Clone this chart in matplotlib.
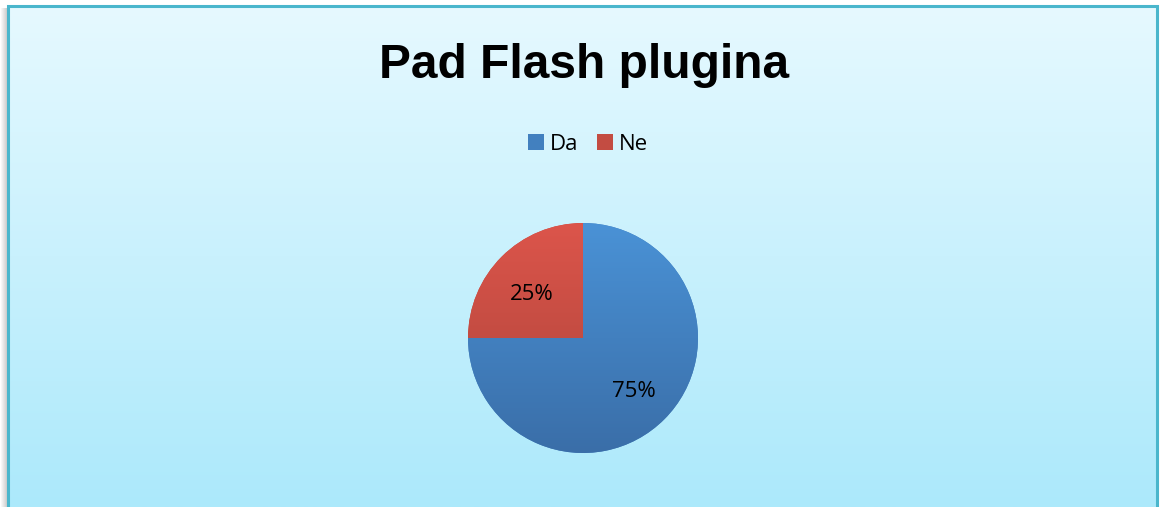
import numpy as np
import matplotlib.pyplot as plt
from matplotlib.colors import LinearSegmentedColormap, to_rgb

# podaci
labels = ['Da', 'Ne']
values = [75, 25]
top_colors = ['#4a92d6', '#dc554b']
bottom_colors = ['#3a6ea8', '#ab4339']
title = 'Pad Flash plugina'

W, H = 1161, 507
fig = plt.figure(figsize=(W / 100, H / 100), dpi=100, facecolor='white')

# pozadina s gradijentom
bg = fig.add_axes([0, 0, 1, 1])
bg.axis('off')
# sjena lijevo
sh = np.linspace(0, 1, 8).reshape(1, -1)
bg.imshow(sh, extent=[0, 8, H, 8], cmap=LinearSegmentedColormap.from_list('s', ['#ffffff', '#c8c8c8']),
          aspect='auto', zorder=0)
grad = np.linspace(0, 1, 256).reshape(-1, 1)
bg_cmap = LinearSegmentedColormap.from_list('bg', ['#e6f9ff', '#ace9fb'])
bg.imshow(grad, extent=[8, 1157, H, 6], cmap=bg_cmap, aspect='auto', zorder=1)
bg.plot([8, 8, 1157, 1157], [H, 6, 6, H], color='#4ab6cc', lw=2.2, zorder=2, solid_joinstyle='miter')
bg.set_xlim(0, W)
bg.set_ylim(H, 0)

bg.text(584, 65, title, ha='center', va='center', fontsize=34.5, fontweight='bold',
        family='Liberation Sans', color='black', zorder=3)

# pita
cx, cy, r = 583, 338, 115
ax = fig.add_axes([(cx - r) / W, (H - cy - r) / H, 2 * r / W, 2 * r / H])
ax.patch.set_alpha(0)
mid = [tuple((np.array(to_rgb(a)) + np.array(to_rgb(b))) / 2) for a, b in zip(top_colors, bottom_colors)]
wedges, texts, autotexts = ax.pie(values, colors=mid, startangle=90, counterclock=False,
                                  autopct='%d%%', pctdistance=0.63, radius=1,
                                  textprops=dict(fontsize=16, family='Open Sans', color='black'))
for w, tc, bc in zip(wedges, top_colors, bottom_colors):
    cm = LinearSegmentedColormap.from_list('w', [tc, bc])
    im = ax.imshow(grad, extent=[-1, 1, -1, 1], cmap=cm, aspect='auto', zorder=w.get_zorder())
    im.set_clip_path(w)
# malo spusti natpise kao u Excelu
for t, dy in zip(autotexts, [-0.02, -0.07]):
    x, y = t.get_position()
    t.set_position((x, y + dy))
    t.set_zorder(5)
ax.set_xlim(-1, 1)
ax.set_ylim(-1, 1)
ax.set_aspect('equal')
ax.axis('off')

# legenda
fig.legend(wedges, labels, loc='center', bbox_to_anchor=(588 / W, 1 - 144 / H), ncol=2,
           frameon=False, prop=dict(family='Open Sans', size=16), handlelength=0.72,
           handleheight=0.72, handletextpad=0.3, columnspacing=0.8)

fig.savefig('out.png', dpi=100, facecolor=fig.get_facecolor())
